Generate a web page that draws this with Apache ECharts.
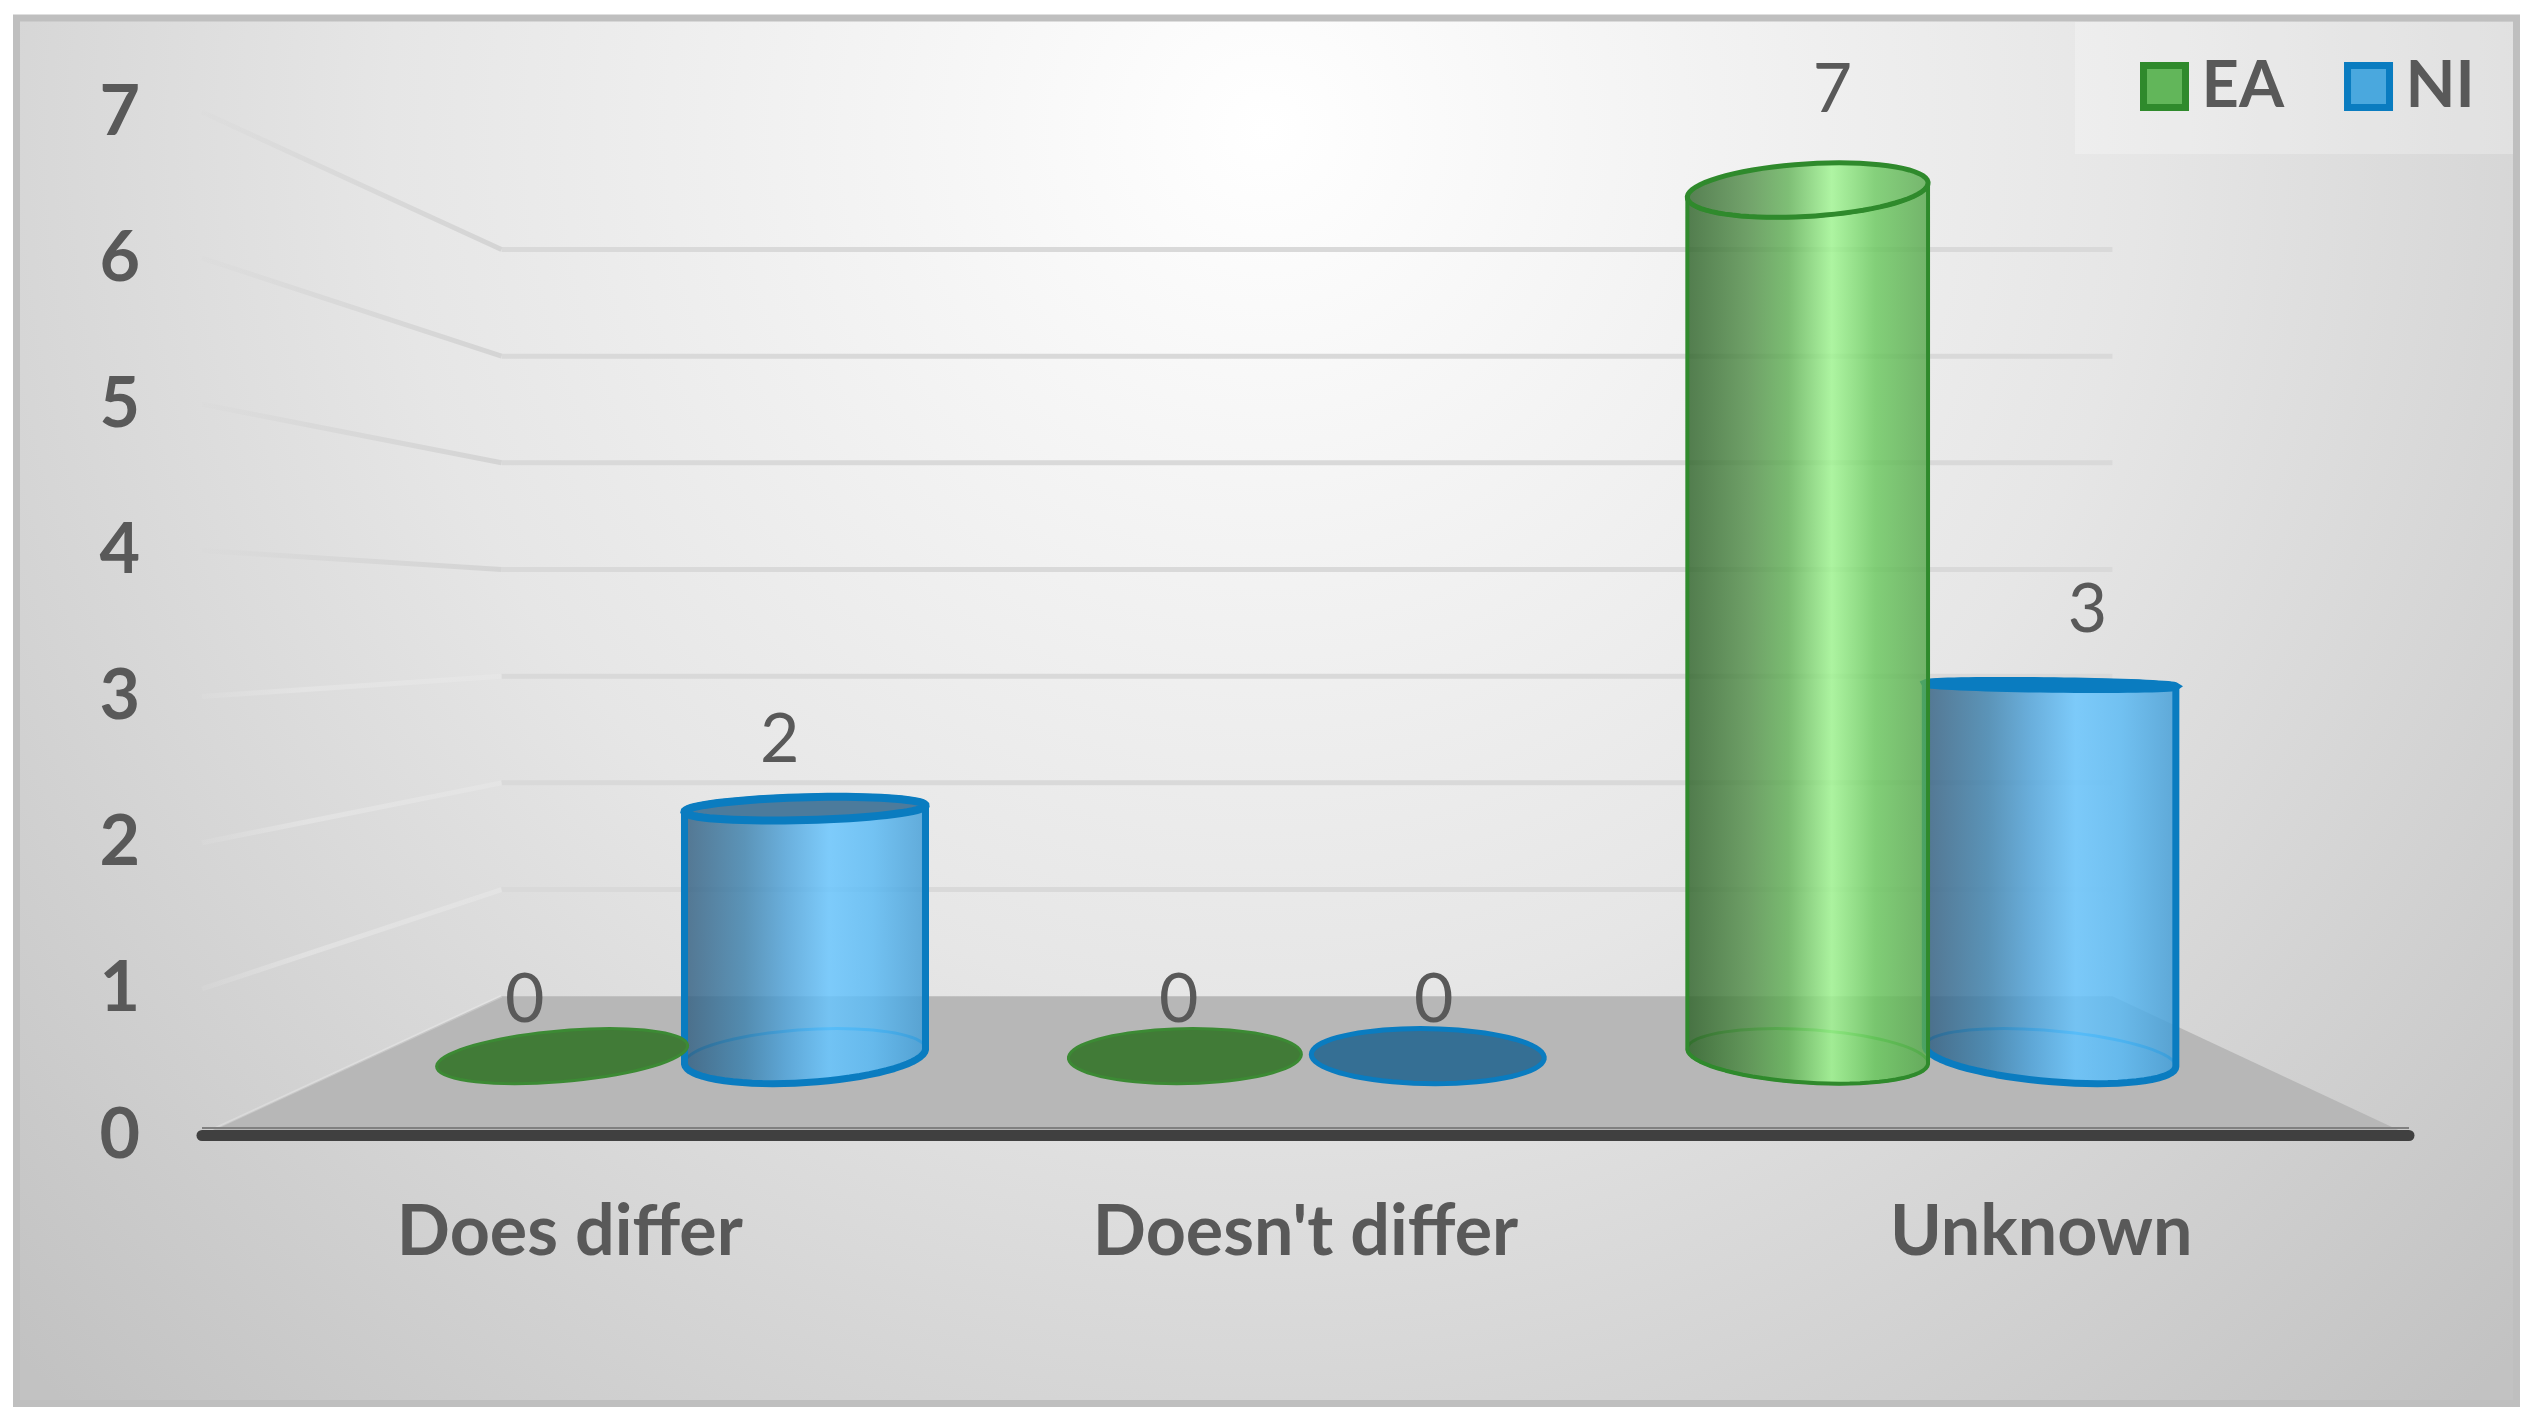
<!DOCTYPE html>
<html>
<head>
<meta charset="utf-8">
<title>EA / NI</title>
<script src="https://cdn.jsdelivr.net/npm/echarts@6/dist/echarts.min.js"></script>
<style>
  html, body { margin: 0; background: #fff; }
  #chart { width: 2535px; height: 1426px; }
</style>
</head>
<body>
<div id="chart"></div>
<script>
const categories = ['Does differ', "Doesn't differ", 'Unknown']
const eaValues = [0, 0, 7]
const niValues = [2, 0, 3]
const yTicks = [0, 1, 2, 3, 4, 5, 6, 7]

const TEXT = '#595959'
const FONT = 'Lato, "Noto Sans", sans-serif'

// fake 3d: everything sits on the front plane of the grid, then gets pulled to this point
const VP = [1311, 621]
const BACK_W = 1.37 // wall
const BAR_W = 1.186 // middle of the cylinders
const RING_W = 0.075 // depth radius of a cylinder
const LABEL_W = 1.125

const project = (p, w) => [VP[0] + (p[0] - VP[0]) / w, VP[1] + (p[1] - VP[1]) / w]

const myChart = echarts.init(document.getElementById('chart'))

// 圆柱的配色
const palette = {
  EA: {
    stroke: '#2f8a2c', rim: '#3ea53a', flat: '#417b37', width: 4,
    stops: ['#2f632a', '#528e49', '#62b257', '#9ff690', '#6bc95f', '#58a84e'],
    base: ['#4d8f45', '#6fbd62', '#86d578', '#74c868', '#5fae55']
  },
  NI: {
    stroke: '#0a7cc0', rim: '#1596dc', flat: '#356f94', width: 7,
    stops: ['#345f80', '#3d82ae', '#4fa3da', '#66c5ff', '#59baf5', '#439dd6'],
    base: ['#3a7ba6', '#4d9fd4', '#62bdf4', '#56b2ea', '#3fa0dc']
  }
}

const gradient = (x0, x1, colors, opacity) => ({
  type: 'linear', x: x0, y: 0, x2: x1, y2: 0, global: true,
  colorStops: colors.map((c, i) => {
    const pos = [0, 0.25, 0.42, 0.6, 0.78, 1]
    const offset = colors.length === 6 ? pos[i] : i / (colors.length - 1)
    return { offset, color: echarts.color.modifyAlpha(c, opacity) }
  })
})

const RING_STEPS = 72

const ring = (cx, y, r) => {
  const pts = []
  for (let i = 0; i < RING_STEPS; i++) {
    const a = Math.PI * 2 * i / RING_STEPS
    pts.push(project([cx + r * Math.cos(a), y], BAR_W + RING_W * Math.sin(a)))
  }
  return pts
}

// walk round the ring from index a to index b
const arc = (pts, a, b) => {
  const out = []
  let i = a
  while (true) {
    out.push(pts[i])
    if (i === b) break
    i = (i + 1) % pts.length
  }
  return out
}

// 地面和墙上的线
const renderWalls = (params, api) => {
  const v = api.value(0)
  const band = api.size([1, 0])[0]
  const left = api.coord([0, v])[0] - band / 2
  const right = api.coord([2, v])[0] + band / 2
  const y = api.coord([0, v])[1]
  const a = project([left, y], BACK_W)
  const b = project([right, y], BACK_W)
  const front = [left, y]
  const children = []
  if (v === 0) {
    children.push({
      type: 'polygon',
      shape: { points: [front, a, b, [right, y]] },
      style: { fill: '#b7b7b7' }
    })
    children.push({
      type: 'line',
      shape: { x1: front[0] + 14, y1: front[1] - 7, x2: a[0], y2: a[1] },
      style: { stroke: 'rgba(255,255,255,0.22)', lineWidth: 3 }
    })
    children.push({
      type: 'line',
      shape: { x1: left, y1: y - 7, x2: right, y2: y - 7 },
      style: { stroke: '#808080', lineWidth: 2 }
    })
  } else {
    children.push({
      type: 'line',
      shape: { x1: a[0], y1: a[1], x2: b[0], y2: b[1] },
      style: { stroke: '#d9d9d9', lineWidth: 5 }
    })
    const fade = v <= 3 ? 'rgba(232,232,232,0.55)' : '#d4d4d4'
    children.push({
      type: 'line',
      shape: { x1: front[0], y1: front[1], x2: a[0], y2: a[1] },
      style: {
        lineWidth: 5,
        stroke: {
          type: 'linear', x: front[0], y: front[1], x2: a[0], y2: a[1], global: true,
          colorStops: [
            { offset: 0, color: echarts.color.modifyAlpha(fade, 0.12) },
            { offset: 0.35, color: echarts.color.modifyAlpha(fade, 0.6) },
            { offset: 1, color: fade }
          ]
        }
      }
    })
  }
  return { type: 'group', children }
}

const makeCylinder = (name, sign) => (params, api) => {
  const c = palette[name]
  const idx = api.value(0)
  const val = api.value(1)
  const band = api.size([1, 0])[0]
  const cx = api.coord([idx, 0])[0] + sign * band * 0.195
  const y0 = api.coord([idx, 0])[1]
  const y1 = api.coord([idx, val])[1]
  const r = band * 0.187
  const base = ring(cx, y0, r)
  const labelAt = project([cx, y1], LABEL_W)
  const children = []

  if (val === 0) {
    children.push({
      type: 'polygon',
      shape: { points: base },
      style: { fill: c.flat, stroke: name === 'NI' ? c.stroke : '#3c8a34', lineWidth: name === 'NI' ? 5 : 3 }
    })
  } else {
    const top = ring(cx, y1, r)
    const xs = base.map((p) => p[0])
    const x0 = Math.min(...xs)
    const x1 = Math.max(...xs)
    const iMin = xs.indexOf(x0)
    const iMax = xs.indexOf(x1)
    // 前半圈离镜头近, silhouette runs through the widest points of both rings
    const body = arc(base, iMin, iMax).concat(arc(top, iMax, iMin))
    children.push({
      type: 'polygon',
      shape: { points: base },
      style: { fill: gradient(x0, x1, c.base, 0.22), stroke: c.rim, lineWidth: 3 }
    })
    children.push({
      type: 'polygon',
      shape: { points: body },
      style: { fill: gradient(x0, x1, c.stops, 0.82), stroke: c.stroke, lineWidth: c.width, lineJoin: 'round' }
    })
    children.push({
      type: 'polygon',
      shape: { points: top },
      style: {
        fill: y1 > VP[1] - 300 ? '#4c7b9c' : gradient(x0, x1, c.stops, 0.8),
        stroke: c.stroke,
        lineWidth: c.width + 1
      }
    })
  }
  children.push({
    type: 'text',
    style: {
      x: labelAt[0], y: labelAt[1] - 78,
      text: String(val),
      fill: TEXT,
      font: '400 68px ' + FONT,
      align: 'center',
      verticalAlign: 'middle'
    }
  })
  return { type: 'group', children }
}

const toRows = (values) => values.map((v, i) => [i, v])

myChart.setOption({
  animation: false,
  graphic: [
    {
      type: 'rect', z: -10,
      shape: { x: 16.5, y: 18, width: 2500, height: 1385.5 },
      style: {
        stroke: '#bfbfbf', lineWidth: 7,
        fill: {
          type: 'radial', x: 1265, y: 130, r: 1750, global: true,
          colorStops: [
            { offset: 0, color: '#ffffff' },
            { offset: 0.5, color: '#e6e6e6' },
            { offset: 1, color: '#c2c2c2' }
          ]
        }
      }
    },
    {
      type: 'rect', z: -9,
      shape: { x: 2075, y: 22, width: 438, height: 132 },
      style: { fill: 'rgba(255,255,255,0.25)' }
    }
  ],
  legend: {
    left: 2140,
    top: 54,
    padding: 0,
    itemWidth: 42,
    itemHeight: 42,
    itemGap: 60,
    selectedMode: false,
    textStyle: { color: TEXT, fontFamily: FONT, fontWeight: 700, fontSize: 65, padding: [4, 0, 0, 11] },
    data: [
      { name: 'EA', icon: 'rect', itemStyle: { color: '#62b65a', borderColor: '#2f8a2c', borderWidth: 7 } },
      { name: 'NI', icon: 'rect', itemStyle: { color: '#4aa8de', borderColor: '#0a7cc0', borderWidth: 7 } }
    ]
  },
  grid: { left: 202, right: 126, top: 112, height: 1023 },
  xAxis: {
    type: 'category',
    data: categories,
    z: 5,
    axisLine: { lineStyle: { color: '#404040', width: 11, cap: 'round' } },
    axisTick: { show: false },
    axisLabel: { color: TEXT, fontFamily: FONT, fontWeight: 700, fontSize: 70, margin: 62 }
  },
  yAxis: {
    type: 'value',
    min: 0,
    max: 7,
    interval: 1,
    axisLine: { show: false },
    axisTick: { show: false },
    splitLine: { show: false },
    axisLabel: { color: TEXT, fontFamily: FONT, fontWeight: 700, fontSize: 70, margin: 62, padding: [4, 0, 0, 0] }
  },
  series: [
    { name: 'walls', type: 'custom', z: 1, silent: true, renderItem: renderWalls, data: yTicks.map((v) => [v]), encode: { y: 0 } },
    { name: 'NI', type: 'custom', z: 2, renderItem: makeCylinder('NI', 1), data: toRows(niValues), encode: { x: 0, y: 1 }, itemStyle: { color: '#4aa8de' } },
    { name: 'EA', type: 'custom', z: 3, renderItem: makeCylinder('EA', -1), data: toRows(eaValues), encode: { x: 0, y: 1 }, itemStyle: { color: '#62b65a' } }
  ]
})
</script>
</body>
</html>
